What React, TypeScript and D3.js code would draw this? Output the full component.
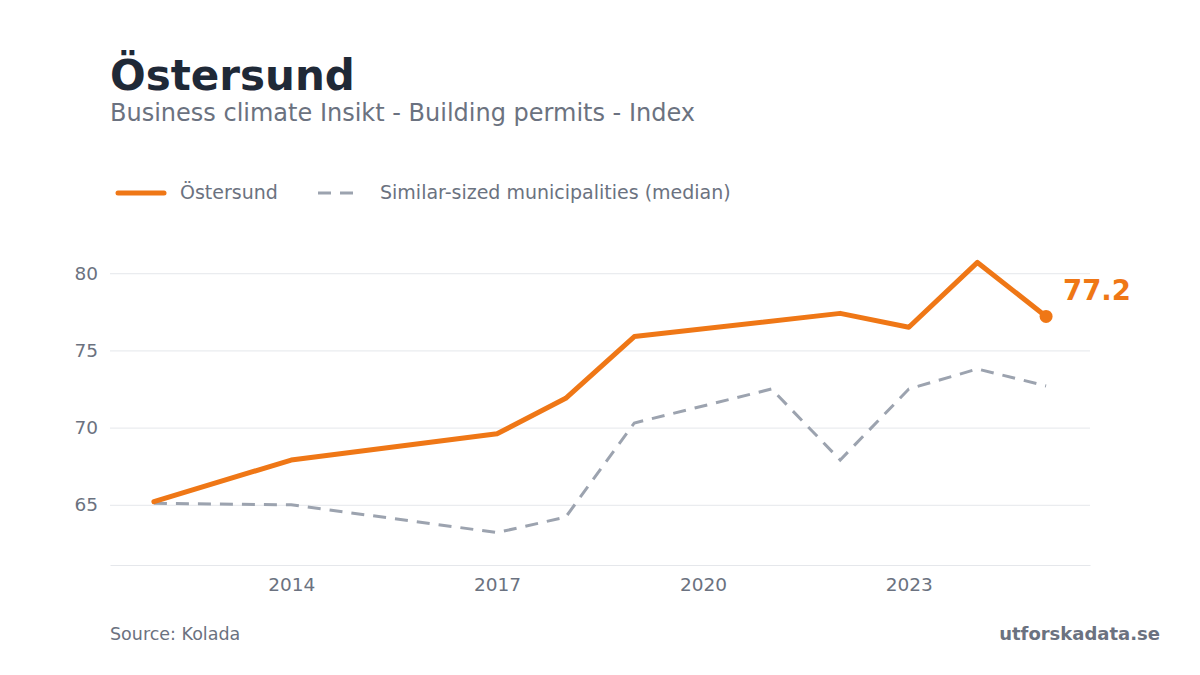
import * as d3 from 'd3';
import React, { useEffect, useRef } from 'react';

const title = 'Östersund';
const subtitle = 'Business climate Insikt - Building permits - Index';
const seriesNames = ['Östersund', 'Similar-sized municipalities (median)'];

const ostersundYears = [2012, 2014, 2017, 2018, 2019, 2022, 2023, 2024, 2025];
const ostersundValues = [65.2, 67.9, 69.6, 71.9, 75.9, 77.4, 76.5, 80.7, 77.2];

const medianYears = [2012, 2014, 2017, 2018, 2019, 2021, 2022, 2023, 2024, 2025];
const medianValues = [65.1, 65.0, 63.2, 64.2, 70.3, 72.5, 67.9, 72.5, 73.8, 72.7];

const yTicks = [65, 70, 75, 80];
const xTicks = [2014, 2017, 2020, 2023];

const ORANGE = '#ef7716';
const GRAY = '#9ca3af';
const TEXT = '#6b7280';
const GRID = '#e5e7eb';
const FONT = '"DejaVu Sans", sans-serif';

export default function App() {
  const axisBottomRef = useRef<SVGGElement>(null);
  const axisLeftRef = useRef<SVGGElement>(null);

  const width = 1200;
  const height = 675;
  const plot = { left: 110, right: 1090, top: 230, bottom: 565 };

  const x = d3.scaleLinear().domain([2011.36, 2025.64]).range([plot.left, plot.right]);
  const y = d3.scaleLinear().domain([61.1, 82.8]).range([plot.bottom, plot.top]);

  const line = d3
    .line<[number, number]>()
    .x((d) => x(d[0]))
    .y((d) => y(d[1]));

  const ostersund = ostersundYears.map((yr, i) => [yr, ostersundValues[i]] as [number, number]);
  const median = medianYears.map((yr, i) => [yr, medianValues[i]] as [number, number]);
  const last = ostersund[ostersund.length - 1];

  useEffect(() => {
    if (axisBottomRef.current) {
      const g = d3.select(axisBottomRef.current);
      g.call(d3.axisBottom(x).tickValues(xTicks).tickFormat(d3.format('d')).tickSize(0).tickPadding(13));
      g.select('.domain').attr('stroke', GRID);
      g.selectAll('text').attr('fill', TEXT).attr('font-size', 18.5).attr('font-family', FONT);
    }
    if (axisLeftRef.current) {
      const g = d3.select(axisLeftRef.current);
      g.call(d3.axisLeft(y).tickValues(yTicks).tickSize(-(plot.right - plot.left)).tickPadding(12));
      g.select('.domain').remove();
      g.selectAll('line').attr('stroke', GRID).attr('stroke-width', 1);
      g.selectAll('text').attr('fill', TEXT).attr('font-size', 18.5).attr('font-family', FONT);
    }
  }, []);

  return (
    <svg width={width} height={height} style={{ position: 'absolute', left: 0, top: 0 }} fontFamily={FONT}>
      <rect width={width} height={height} fill="#fff" />
      <text x={110} y={90} fontSize={42} fontWeight="bold" fill="#1f2937">
        {title}
      </text>
      <text x={110} y={121} fontSize={24} fill={TEXT}>
        {subtitle}
      </text>

      <g>
        <line x1={118} x2={164} y1={193} y2={193} stroke={ORANGE} strokeWidth={5} strokeLinecap="round" />
        <text x={180} y={199} fontSize={19} fill={TEXT}>
          {seriesNames[0]}
        </text>
        <line x1={318} x2={358} y1={193} y2={193} stroke={GRAY} strokeWidth={3} strokeDasharray="13 9" />
        <text x={380} y={199} fontSize={19} fill={TEXT}>
          {seriesNames[1]}
        </text>
      </g>

      <g ref={axisLeftRef} transform={`translate(${plot.left},0)`} />
      <g ref={axisBottomRef} transform={`translate(0,${plot.bottom})`} />

      <path d={line(median) || ''} fill="none" stroke={GRAY} strokeWidth={3} strokeDasharray="13 9" />
      <path
        d={line(ostersund) || ''}
        fill="none"
        stroke={ORANGE}
        strokeWidth={5}
        strokeLinejoin="round"
        strokeLinecap="round"
      />
      <circle cx={x(last[0])} cy={y(last[1])} r={6.5} fill={ORANGE} />
      <text x={x(last[0]) + 17} y={y(last[1]) - 16} fontSize={27.5} fontWeight="bold" fill={ORANGE}>
        {last[1].toFixed(1)}
      </text>

      <text x={110} y={640} fontSize={17.5} fill={TEXT}>
        Source: Kolada
      </text>
      <text x={1160} y={640} fontSize={18} fontWeight="bold" fill={TEXT} textAnchor="end">
        utforskadata.se
      </text>
    </svg>
  );
}
